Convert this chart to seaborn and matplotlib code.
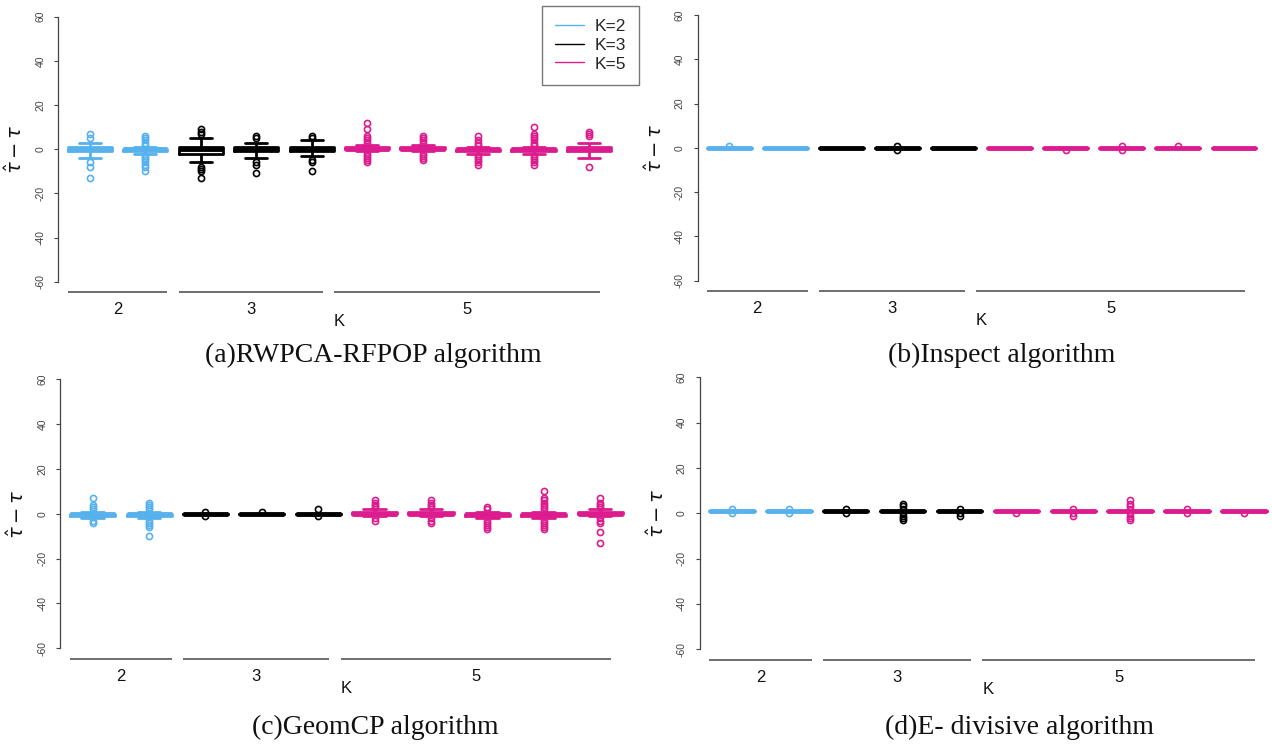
import numpy as np
import pandas as pd
import matplotlib
matplotlib.use("Agg")
import matplotlib.pyplot as plt
from matplotlib.lines import Line2D
from matplotlib import transforms
import seaborn as sns

sns.set_theme(style="white")
plt.rcParams['font.family'] = ['Liberation Sans', 'DejaVu Sans']
plt.rcParams['mathtext.fontset'] = 'dejavusans'

# ---- data: one box per simulation setting, grouped by number of change points K ----
BOX_K = [2, 2, 3, 3, 3, 5, 5, 5, 5, 5]
K_COLORS = {"K=2": "#56B1EC", "K=3": "#000000", "K=5": "#DC1C8E"}

# (a) RWPCA-RFPOP
Q1_A = [-1, -1, -2, -1, -1, 0, 0, -1, -1, -1]
MED_A = [0, 0, 0, 0, 0, 0, 0, 0, 0, 0]
Q3_A = [1, 0, 1, 1, 1, 1, 1, 0, 0, 1]
LO_A = [-4, -2, -6, -4, -3, -1, -1, -2, -2, -4]
HI_A = [3, 1, 5, 3, 4, 2, 2, 1, 1, 3]
OUT_A = [
    [5, 7, -6, -8, -13],
    [2, 3, 4, 5, 6, -3, -4, -5, -6, -7, -8, -10],
    [7, 8, 9, -8, -9, -10, -13],
    [5, 6, -6, -7, -11],
    [5, 6, -5, -6, -10],
    [3, 4, 5, 6, 9, 12, -2, -3, -4, -5, -6],
    [3, 4, 5, 6, -2, -3, -4, -5],
    [2, 3, 4, 6, -3, -4, -5, -6, -7],
    [2, 3, 4, 5, 6, 7, 10, -3, -4, -5, -6, -7],
    [6, 7, 8, -8],
]

# (b) Inspect
Q1_B = [0, 0, 0, 0, 0, 0, 0, 0, 0, 0]
MED_B = [0, 0, 0, 0, 0, 0, 0, 0, 0, 0]
Q3_B = [0, 0, 0, 0, 0, 0, 0, 0, 0, 0]
LO_B = [0, 0, 0, 0, 0, 0, 0, 0, 0, 0]
HI_B = [0, 0, 0, 0, 0, 0, 0, 0, 0, 0]
OUT_B = [[1], [], [], [1, -1], [], [], [-1], [1, -1], [1], []]

# (c) GeomCP
Q1_C = [-1, -1, 0, 0, 0, 0, 0, -1, -1, 0]
MED_C = [0, 0, 0, 0, 0, 0, 0, 0, 0, 0]
Q3_C = [0, 0, 0, 0, 0, 1, 1, 0, 0, 1]
LO_C = [-2, -2, 0, 0, 0, -1, -1, -2, -2, -1]
HI_C = [1, 1, 0, 0, 0, 2, 2, 1, 1, 2]
OUT_C = [
    [2, 3, 4, 7, -3, -4],
    [2, 3, 4, 5, -3, -4, -5, -6, -10],
    [1, -1],
    [1],
    [2, -1],
    [3, 4, 5, 6, -2, -3],
    [3, 4, 5, 6, -2, -3, -4],
    [2, 3, -3, -4, -5, -6, -7],
    [2, 3, 4, 5, 6, 7, 10, -3, -4, -5, -6, -7],
    [3, 4, 5, 7, -2, -3, -4, -8, -13],
]

# (d) E-divisive
Q1_D = [1, 1, 1, 1, 1, 1, 1, 1, 1, 1]
MED_D = [1, 1, 1, 1, 1, 1, 1, 1, 1, 1]
Q3_D = [1, 1, 1, 1, 1, 1, 1, 1, 1, 1]
LO_D = [1, 1, 1, 1, 1, 1, 1, 1, 1, 1]
HI_D = [1, 1, 1, 1, 1, 1, 1, 1, 1, 1]
OUT_D = [
    [2, 0], [2, 0], [2, 0], [2, 3, 4, 0, -1, -2, -3], [2, 0, -1],
    [0], [2, 0, -1], [2, 3, 4, 6, 0, -1, -2, -3], [2, 0], [0],
]

CAPTIONS = ["(a)RWPCA-RFPOP algorithm", "(b)Inspect algorithm",
            "(c)GeomCP algorithm", "(d)E- divisive algorithm"]
GROUP_NAMES = ["2", "3", "5"]
YTICKS = [-60, -40, -20, 0, 20, 40, 60]

# ---- layout (pixels on a 1272 x 747 canvas) ----
W, H = 1272, 747
GROUP_SPANS = [(0.6, 2.4), (2.6, 5.2), (5.4, 10.2)]
GROUP_LABEL_X = [1.5, 3.9, 7.8]
K_LABEL_X = 5.5
BOX_WIDTH = 0.8
PANELS = [
    # left, top, width, height, y-axis x (data), ylabel right edge (px), caption centre
    dict(rect=(39.9, 6.1, 599.1, 286.2), yaxis_x=0.434, ylab_x=26.5, cap=(373.5, 355)),
    dict(rect=(678.6, 4.4, 605.9, 286.9), yaxis_x=0.444, ylab_x=666.0, cap=(1002.0, 355)),
    dict(rect=(42.0, 368.5, 608.8, 290.6), yaxis_x=0.427, ylab_x=28.5, cap=(375.5, 727)),
    dict(rect=(680.7, 366.4, 614.5, 293.8), yaxis_x=0.434, ylab_x=668.0, cap=(1019.5, 727)),
]
PX = 0.72  # points per pixel at dpi 100


def box_frame(q1, med, q3, lo, hi, out, reps=100):
    """Long table whose quartiles, whisker ends and outliers are the given values."""
    rows = []
    for i in range(len(q1)):
        vals = [q1[i]] * reps + [med[i]] * reps + [q3[i]] * reps + [lo[i], hi[i]] + list(out[i])
        rows += [(i + 1, f"K={BOX_K[i]}", v) for v in vals]
    return pd.DataFrame(rows, columns=["box", "K", "value"])


frames = [
    box_frame(Q1_A, MED_A, Q3_A, LO_A, HI_A, OUT_A),
    box_frame(Q1_B, MED_B, Q3_B, LO_B, HI_B, OUT_B),
    box_frame(Q1_C, MED_C, Q3_C, LO_C, HI_C, OUT_C),
    box_frame(Q1_D, MED_D, Q3_D, LO_D, HI_D, OUT_D),
]

fig = plt.figure(figsize=(W / 100, H / 100), dpi=100)
fig.patch.set_facecolor("white")

for idx, (df, spec) in enumerate(zip(frames, PANELS)):
    l, t, w, h = spec["rect"]
    ax = fig.add_axes([l / W, 1 - (t + h) / H, w / W, h / H])
    ax.set_facecolor("none")

    sns.boxplot(
        data=df, x="box", y="value", hue="K", palette=K_COLORS,
        native_scale=True, dodge=False, width=BOX_WIDTH, fill=False,
        linewidth=2.0, whis=1.5, legend=False, ax=ax,
        flierprops=dict(marker="o", markersize=4.4, markeredgewidth=1.2,
                        markerfacecolor="none"),
    )
    # heavier median bars (full-width horizontal segments)
    for ln in ax.lines:
        xs, ys = np.asarray(ln.get_xdata(), float), np.asarray(ln.get_ydata(), float)
        if len(xs) == 2 and ys[0] == ys[1] and abs(abs(xs[1] - xs[0]) - BOX_WIDTH) < 1e-6:
            ln.set_linewidth(3.5)
            ln.set_solid_capstyle("butt")

    ax.set_xlim(0.1, 10.9)
    ax.set_ylim(-64.8, 64.8)
    ax.set_xticks([])
    ax.set_xlabel("")
    for side in ("top", "right", "bottom"):
        ax.spines[side].set_visible(False)
    ax.spines["left"].set_position(("data", spec["yaxis_x"]))
    ax.spines["left"].set_bounds(-60, 60)
    ax.spines["left"].set_color("#444444")
    ax.spines["left"].set_linewidth(0.9)
    ax.set_yticks(YTICKS)
    ax.set_yticklabels([str(v) for v in YTICKS])
    ax.tick_params(axis="y", left=True, direction="out", length=4 * PX, width=0.8,
                   color="#444444", labelsize=7.5, labelcolor="#444444",
                   pad=6.5, labelrotation=90)
    for lab in ax.get_yticklabels():
        lab.set_verticalalignment("center")

    ax.set_ylabel(r"$\hat{\tau}-\tau$", fontsize=14, color="#111111")
    ax.yaxis.set_label_coords((spec["ylab_x"] - l) / w, 0.5)

    # grouping axis underneath the boxes
    y0 = -64.8
    for (x0, x1) in GROUP_SPANS:
        ax.plot([x0, x1], [y0, y0], color="#555555", lw=1.2, clip_on=False,
                solid_capstyle="butt")
    lab_tr = transforms.offset_copy(ax.transData, fig=fig, y=-17 * PX, units="points")
    for gx, name in zip(GROUP_LABEL_X, GROUP_NAMES):
        ax.text(gx, y0, name, transform=lab_tr, ha="center", va="center",
                fontsize=12, color="#111111", clip_on=False)
    k_tr = transforms.offset_copy(ax.transData, fig=fig, y=-29 * PX, units="points")
    ax.text(K_LABEL_X, y0, "K", transform=k_tr, ha="center", va="center",
            fontsize=12, color="#111111", clip_on=False)

    if idx == 0:
        handles = [Line2D([0], [0], color=c, lw=1.0) for c in K_COLORS.values()]
        leg = ax.legend(handles, list(K_COLORS.keys()), loc="upper right",
                        bbox_to_anchor=(1, 1), borderaxespad=0, frameon=True,
                        fancybox=False, edgecolor="#555555", fontsize=12.5,
                        handlelength=1.7, handletextpad=0.6, borderpad=0.75,
                        labelspacing=0.2)
        leg.get_frame().set_linewidth(1.0)
        leg.get_frame().set_facecolor("white")

    cx, cy = spec["cap"]
    fig.text(cx / W, 1 - cy / H, CAPTIONS[idx], ha="center", va="center",
             fontsize=20, family="Liberation Serif", color="#111111")

fig.savefig("out.png", dpi=100, facecolor="white")
